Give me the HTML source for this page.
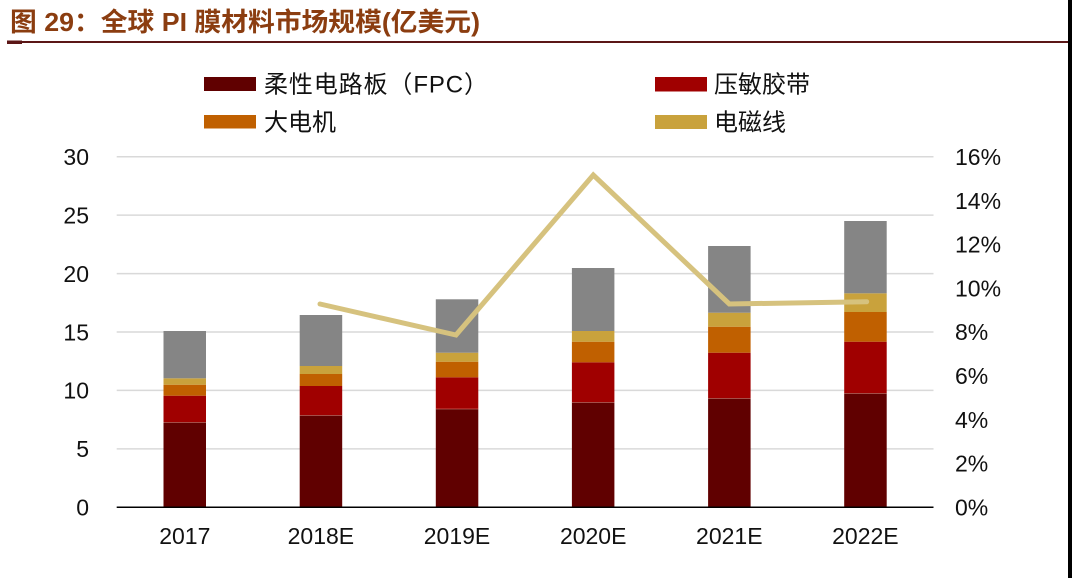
<!DOCTYPE html>
<html>
<head>
<meta charset="utf-8">
<style>
  html, body { margin: 0; padding: 0; background: #fff; }
  body { width: 1072px; height: 578px; overflow: hidden; }
  svg { display: block; }
  .lab { font-family: "Liberation Sans", Arial, sans-serif; font-size: 23px; fill: #111; }
  .leg { font-family: "Liberation Sans", "Noto Sans CJK SC", sans-serif; font-size: 24px; fill: #111; }
  .title { font-family: "Liberation Sans", "Noto Sans CJK SC", sans-serif; font-size: 26px; font-weight: bold; fill: #8B3D10; }
</style>
</head>
<body>
<svg width="1072" height="578" viewBox="0 0 1072 578" xmlns="http://www.w3.org/2000/svg">
  <rect x="0" y="0" width="1072" height="578" fill="#fff"/>
  <!-- title -->
  <text class="title" x="10" y="31" textLength="470" lengthAdjust="spacingAndGlyphs">图 29：全球 PI 膜材料市场规模(亿美元)</text>
  <rect x="7" y="41" width="1061" height="2" fill="#5b1616"/>
  <rect x="7" y="40.5" width="15" height="3.5" fill="#5b1616"/>
  <!-- right border strip -->
  <rect x="1068" y="0" width="4" height="578" fill="#000"/>

  <!-- legend -->
  <rect x="204" y="77" width="52" height="14" fill="#600000"/>
  <text class="leg" x="264" y="92.5" textLength="224" lengthAdjust="spacing">柔性电路板（FPC）</text>
  <rect x="204" y="115" width="52" height="13.5" fill="#C06000"/>
  <text class="leg" x="264" y="130.5">大电机</text>
  <rect x="655" y="77" width="52" height="14.5" fill="#A00000"/>
  <text class="leg" x="714" y="92.5">压敏胶带</text>
  <rect x="655" y="115" width="52" height="14" fill="#C9A23C"/>
  <text class="leg" x="714" y="130.5">电磁线</text>

  <!-- gridlines -->
  <g stroke="#d9d9d9" stroke-width="1.5">
    <line x1="116.7" y1="156.7" x2="933.5" y2="156.7"/>
    <line x1="116.7" y1="215.1" x2="933.5" y2="215.1"/>
    <line x1="116.7" y1="273.6" x2="933.5" y2="273.6"/>
    <line x1="116.7" y1="332.0" x2="933.5" y2="332.0"/>
    <line x1="116.7" y1="390.4" x2="933.5" y2="390.4"/>
    <line x1="116.7" y1="448.9" x2="933.5" y2="448.9"/>
  </g>

  <!-- bars -->
  <g>
    <!-- 2017 -->
    <rect x="163.5" y="422.3" width="42.5" height="85" fill="#600000"/>
    <rect x="163.5" y="395.7" width="42.5" height="26.6" fill="#A00000"/>
    <rect x="163.5" y="384.7" width="42.5" height="11" fill="#C06000"/>
    <rect x="163.5" y="378.3" width="42.5" height="6.4" fill="#C9A23C"/>
    <rect x="163.5" y="331" width="42.5" height="47.3" fill="#858585"/>
    <!-- 2018E -->
    <rect x="299.7" y="415.3" width="42.5" height="92" fill="#600000"/>
    <rect x="299.7" y="386" width="42.5" height="29.3" fill="#A00000"/>
    <rect x="299.7" y="374" width="42.5" height="12" fill="#C06000"/>
    <rect x="299.7" y="366" width="42.5" height="8" fill="#C9A23C"/>
    <rect x="299.7" y="315" width="42.5" height="51" fill="#858585"/>
    <!-- 2019E -->
    <rect x="435.8" y="409" width="42.5" height="98.3" fill="#600000"/>
    <rect x="435.8" y="377.3" width="42.5" height="31.7" fill="#A00000"/>
    <rect x="435.8" y="361.7" width="42.5" height="15.6" fill="#C06000"/>
    <rect x="435.8" y="352.7" width="42.5" height="9" fill="#C9A23C"/>
    <rect x="435.8" y="299.3" width="42.5" height="53.4" fill="#858585"/>
    <!-- 2020E -->
    <rect x="571.9" y="402.3" width="42.5" height="105" fill="#600000"/>
    <rect x="571.9" y="362.3" width="42.5" height="40" fill="#A00000"/>
    <rect x="571.9" y="341.7" width="42.5" height="20.6" fill="#C06000"/>
    <rect x="571.9" y="331" width="42.5" height="10.7" fill="#C9A23C"/>
    <rect x="571.9" y="268" width="42.5" height="63" fill="#858585"/>
    <!-- 2021E -->
    <rect x="708.1" y="398.3" width="42.5" height="109" fill="#600000"/>
    <rect x="708.1" y="352.7" width="42.5" height="45.6" fill="#A00000"/>
    <rect x="708.1" y="326.7" width="42.5" height="26" fill="#C06000"/>
    <rect x="708.1" y="312.7" width="42.5" height="14" fill="#C9A23C"/>
    <rect x="708.1" y="246" width="42.5" height="66.7" fill="#858585"/>
    <!-- 2022E -->
    <rect x="844.2" y="393.3" width="42.5" height="114" fill="#600000"/>
    <rect x="844.2" y="341.7" width="42.5" height="51.6" fill="#A00000"/>
    <rect x="844.2" y="312" width="42.5" height="29.7" fill="#C06000"/>
    <rect x="844.2" y="293.3" width="42.5" height="18.7" fill="#C9A23C"/>
    <rect x="844.2" y="221" width="42.5" height="72.3" fill="#858585"/>
  </g>
  <!-- faint separators -->
  <g stroke="#f0b0a0" stroke-width="0.7" opacity="0.6">
    <line x1="163.5" y1="422.3" x2="206" y2="422.3"/>
    <line x1="299.7" y1="415.3" x2="342.2" y2="415.3"/>
    <line x1="435.8" y1="409" x2="478.3" y2="409"/>
    <line x1="571.9" y1="402.3" x2="614.4" y2="402.3"/>
    <line x1="708.1" y1="398.3" x2="750.6" y2="398.3"/>
    <line x1="844.2" y1="393.3" x2="886.7" y2="393.3"/>
  </g>

  <!-- axis line -->
  <line x1="116.7" y1="507.3" x2="933.5" y2="507.3" stroke="#000" stroke-width="1.5"/>

  <!-- growth line -->
  <polyline points="320,304 456,335 593.3,175 729.3,304 866.7,301.7" fill="none" stroke="#D6C27E" stroke-width="5" stroke-linejoin="miter" stroke-linecap="round"/>

  <!-- left axis labels -->
  <g class="lab" text-anchor="end">
    <text x="89" y="165">30</text>
    <text x="89" y="223.4">25</text>
    <text x="89" y="281.9">20</text>
    <text x="89" y="340.3">15</text>
    <text x="89" y="398.7">10</text>
    <text x="89" y="457.2">5</text>
    <text x="89" y="515.6">0</text>
  </g>
  <!-- right axis labels -->
  <g class="lab" text-anchor="start">
    <text x="955" y="165">16%</text>
    <text x="955" y="208.8">14%</text>
    <text x="955" y="252.6">12%</text>
    <text x="955" y="296.4">10%</text>
    <text x="955" y="340.2">8%</text>
    <text x="955" y="384">6%</text>
    <text x="955" y="427.8">4%</text>
    <text x="955" y="471.6">2%</text>
    <text x="955" y="515.6">0%</text>
  </g>
  <!-- x labels -->
  <g class="lab" text-anchor="middle">
    <text x="184.8" y="544">2017</text>
    <text x="320.9" y="544">2018E</text>
    <text x="457" y="544">2019E</text>
    <text x="593.2" y="544">2020E</text>
    <text x="729.3" y="544">2021E</text>
    <text x="865.4" y="544">2022E</text>
  </g>
</svg>
</body>
</html>
